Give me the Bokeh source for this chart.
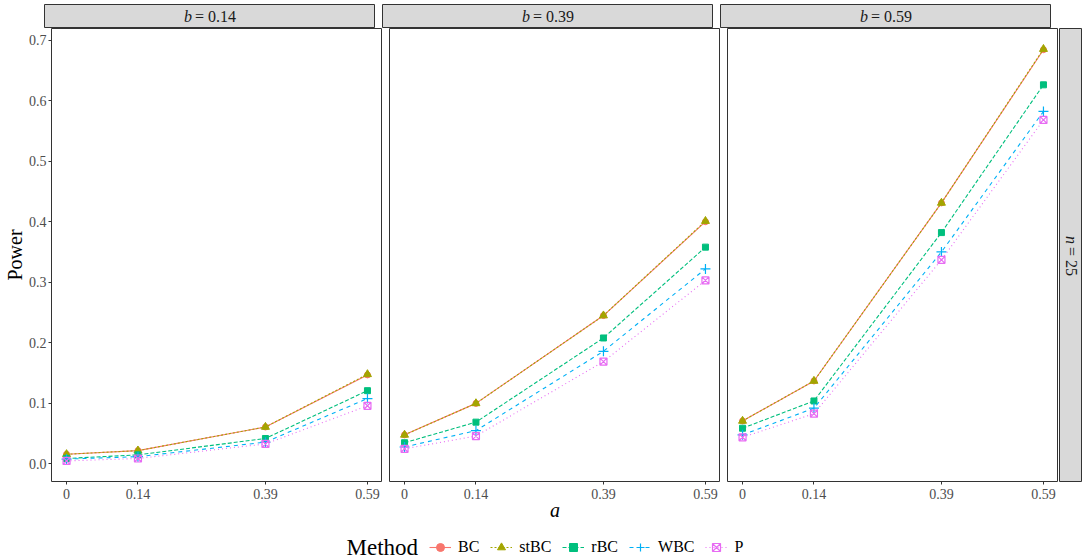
from bokeh.plotting import figure
from bokeh.layouts import row, column
from bokeh.models import Range1d, FixedTicker, PrintfTickFormatter, Legend, LegendItem
from bokeh.core.properties import value
from bokeh.embed import file_html
from bokeh.resources import INLINE
import math

# ---------------- data ----------------
a_vals = [0, 0.14, 0.39, 0.59]
a_tick_labels = ["0", "0.14", "0.39", "0.59"]
b_levels = [0.14, 0.39, 0.59]
y_ticks = [0.0, 0.1, 0.2, 0.3, 0.4, 0.5, 0.6, 0.7]
n_label = 25

methods = ["BC", "stBC", "rBC", "WBC", "P"]

# power per panel (b = 0.14, 0.39, 0.59), values at a = 0, 0.14, 0.39, 0.59
power_BC = [[0.016, 0.022, 0.061, 0.147],
            [0.048, 0.100, 0.245, 0.400],
            [0.071, 0.137, 0.431, 0.684]]
power_stBC = [[0.016, 0.022, 0.061, 0.148],
              [0.048, 0.100, 0.245, 0.401],
              [0.071, 0.137, 0.431, 0.685]]
power_rBC = [[0.009, 0.015, 0.042, 0.121],
             [0.035, 0.069, 0.208, 0.358],
             [0.059, 0.104, 0.382, 0.626]]
power_WBC = [[0.008, 0.012, 0.036, 0.108],
             [0.028, 0.055, 0.186, 0.322],
             [0.048, 0.092, 0.350, 0.582]]
power_P = [[0.005, 0.009, 0.033, 0.096],
           [0.025, 0.046, 0.169, 0.303],
           [0.044, 0.083, 0.337, 0.568]]

series = {"BC": power_BC, "stBC": power_stBC, "rBC": power_rBC,
          "WBC": power_WBC, "P": power_P}

# ---------------- styles ----------------
FONT = "Liberation Serif"
colors = {"BC": "#F8766D", "stBC": "#A3A500", "rBC": "#00BF7D",
          "WBC": "#00B0F6", "P": "#E76BF3"}
dashes = {"BC": "solid", "stBC": "2 2", "rBC": "4 2", "WBC": "4 4", "P": "1 3"}
markers = {"BC": ("circle", 6), "stBC": ("triangle", 8), "rBC": ("square", 6),
           "WBC": ("cross", 10), "P": ("square_x", 7)}

FW, FH = 331, 453
LEFT = 44
GAP = 7
TOP = 4
BOTTOM = 54
STRIP_H = 24
RSTRIP_W = 23
LEG_H = 24
STRIP_FILL = "#D9D9D9"
BORDER = "#333333"
TICK_FS = "14px"
STRIP_FS = "16px"
TITLE_FS = "20px"

# ranges with ggplot-like 5% expansion
all_vals = [v for m in methods for panel in series[m] for v in panel]
ymin, ymax = min(all_vals), max(all_vals)
ypad = 0.05 * (ymax - ymin)
xmin, xmax = min(a_vals), max(a_vals)
xpad = 0.05 * (xmax - xmin)


def add_glyphs(p, m, xs, ys):
    mk, sz = markers[m]
    lr = p.line(xs, ys, line_color=colors[m], line_width=1.1, line_dash=dashes[m])
    if mk in ("cross", "square_x"):
        sr = p.scatter(xs, ys, marker=mk, size=sz, line_color=colors[m],
                       fill_color=None, line_width=1.2)
    else:
        sr = p.scatter(xs, ys, marker=mk, size=sz, line_color=colors[m],
                       fill_color=colors[m], line_width=1)
    return lr, sr


panels = []
strips = []
for i, b in enumerate(b_levels):
    p = figure(frame_width=FW, frame_height=FH,
               x_range=Range1d(xmin - xpad, xmax + xpad),
               y_range=Range1d(ymin - ypad, ymax + ypad),
               output_backend="svg", toolbar_location=None,
               y_axis_location="left" if i == 0 else None,
               min_border_left=LEFT if i == 0 else GAP, min_border_right=0,
               min_border_top=0, min_border_bottom=BOTTOM)
    p.grid.visible = False
    p.outline_line_color = BORDER
    p.outline_line_width = 1
    p.background_fill_color = "white"
    p.border_fill_color = "white"

    xa = p.xaxis[0]
    xa.ticker = FixedTicker(ticks=a_vals)
    xa.major_label_overrides = {v: t for v, t in zip(a_vals, a_tick_labels)}
    xa.axis_line_color = None
    xa.major_tick_line_color = BORDER
    xa.major_tick_out = 3
    xa.major_tick_in = 0
    xa.minor_tick_line_color = None
    xa.major_label_text_font = FONT
    xa.major_label_text_font_size = TICK_FS
    xa.major_label_text_color = "#4D4D4D"
    xa.major_label_standoff = 4
    if i == 1:
        xa.axis_label = "a"
        xa.axis_label_text_font = FONT
        xa.axis_label_text_font_style = "italic"
        xa.axis_label_text_font_size = TITLE_FS
        xa.axis_label_text_color = "black"
        xa.axis_label_standoff = -3

    if i == 0:
        ya = p.yaxis[0]
        ya.ticker = FixedTicker(ticks=y_ticks)
        ya.formatter = PrintfTickFormatter(format="%.1f")
        ya.axis_line_color = None
        ya.major_tick_line_color = BORDER
        ya.major_tick_out = 3
        ya.major_tick_in = 0
        ya.minor_tick_line_color = None
        ya.major_label_text_font = FONT
        ya.major_label_text_font_size = TICK_FS
        ya.major_label_text_color = "#4D4D4D"
        ya.major_label_standoff = 2
        ya.axis_label = "Power"
        ya.axis_label_text_font = FONT
        ya.axis_label_text_font_style = "normal"
        ya.axis_label_text_font_size = TITLE_FS
        ya.axis_label_text_color = "black"
        ya.axis_label_standoff = 0

    for m in methods:
        add_glyphs(p, m, a_vals, series[m][i])
    panels.append(p)

    # strip on top
    s = figure(frame_width=FW, frame_height=STRIP_H,
               x_range=Range1d(0, 1), y_range=Range1d(0, 1),
               output_backend="svg", toolbar_location=None,
               x_axis_location=None, y_axis_location=None,
               min_border_left=LEFT if i == 0 else GAP, min_border_right=0,
               min_border_top=TOP, min_border_bottom=0)
    s.grid.visible = False
    s.background_fill_color = STRIP_FILL
    s.border_fill_color = "white"
    s.outline_line_color = BORDER
    s.text(x=[0.5], y=[0.5], text=["b"], text_font=value(FONT),
           text_font_style="italic", text_font_size=STRIP_FS, text_color="#1A1A1A",
           text_align="right", text_baseline="middle", x_offset=-18)
    s.text(x=[0.5], y=[0.5], text=["= %g" % b], text_font=value(FONT),
           text_font_size=STRIP_FS, text_color="#1A1A1A",
           text_align="left", text_baseline="middle", x_offset=-15)
    strips.append(s)

# right strip
rs = figure(frame_width=RSTRIP_W, frame_height=FH,
            x_range=Range1d(0, 1), y_range=Range1d(0, 1),
            output_backend="svg", toolbar_location=None,
            x_axis_location=None, y_axis_location=None,
            min_border_left=1, min_border_right=0,
            min_border_top=0, min_border_bottom=BOTTOM)
rs.grid.visible = False
rs.background_fill_color = STRIP_FILL
rs.border_fill_color = "white"
rs.outline_line_color = BORDER
rs.text(x=[0.5], y=[0.5 + 11.0 / FH], text=["n"], text_font=value(FONT),
        text_font_style="italic", text_font_size=STRIP_FS, text_color="#1A1A1A",
        text_align="right", text_baseline="middle", angle=-math.pi / 2)
rs.text(x=[0.5], y=[0.5 + 8.0 / FH], text=["= %d" % n_label], text_font=value(FONT),
        text_font_size=STRIP_FS, text_color="#1A1A1A",
        text_align="left", text_baseline="middle", angle=-math.pi / 2)

# legend figure: its renderers hold the real series but lie outside its view
TOTAL_W = LEFT + 3 * FW + 2 * GAP + 1 + RSTRIP_W
Y0 = -40.0
lf = figure(frame_width=TOTAL_W, frame_height=LEG_H,
            x_range=Range1d(0, TOTAL_W), y_range=Range1d(Y0 - LEG_H, Y0),
            output_backend="svg", toolbar_location=None,
            x_axis_location=None, y_axis_location=None,
            min_border_left=0, min_border_right=0,
            min_border_top=0, min_border_bottom=0)
lf.grid.visible = False
lf.outline_line_color = None
lf.background_fill_color = "white"
lf.border_fill_color = "white"
lf.text(x=[346], y=[Y0 - LEG_H / 2], text=["Method"], text_font=value(FONT),
        text_font_size="23px", text_color="black",
        text_align="left", text_baseline="middle")
items = []
for m in methods:
    lr, sr = add_glyphs(lf, m, a_vals, series[m][0])
    items.append(LegendItem(label=m, renderers=[lr, sr]))
leg = Legend(items=items, orientation="horizontal", location=(429, 2),
             padding=0, spacing=11, label_standoff=7, glyph_width=22,
             glyph_height=20, border_line_color=None, background_fill_alpha=0,
             label_text_font=FONT, label_text_font_size="16px",
             label_text_color="black", margin=0)
lf.add_layout(leg, "center")

layout = column(row(*strips), row(*panels, rs), lf)

open("out.html", "w").write(file_html(layout, INLINE))
